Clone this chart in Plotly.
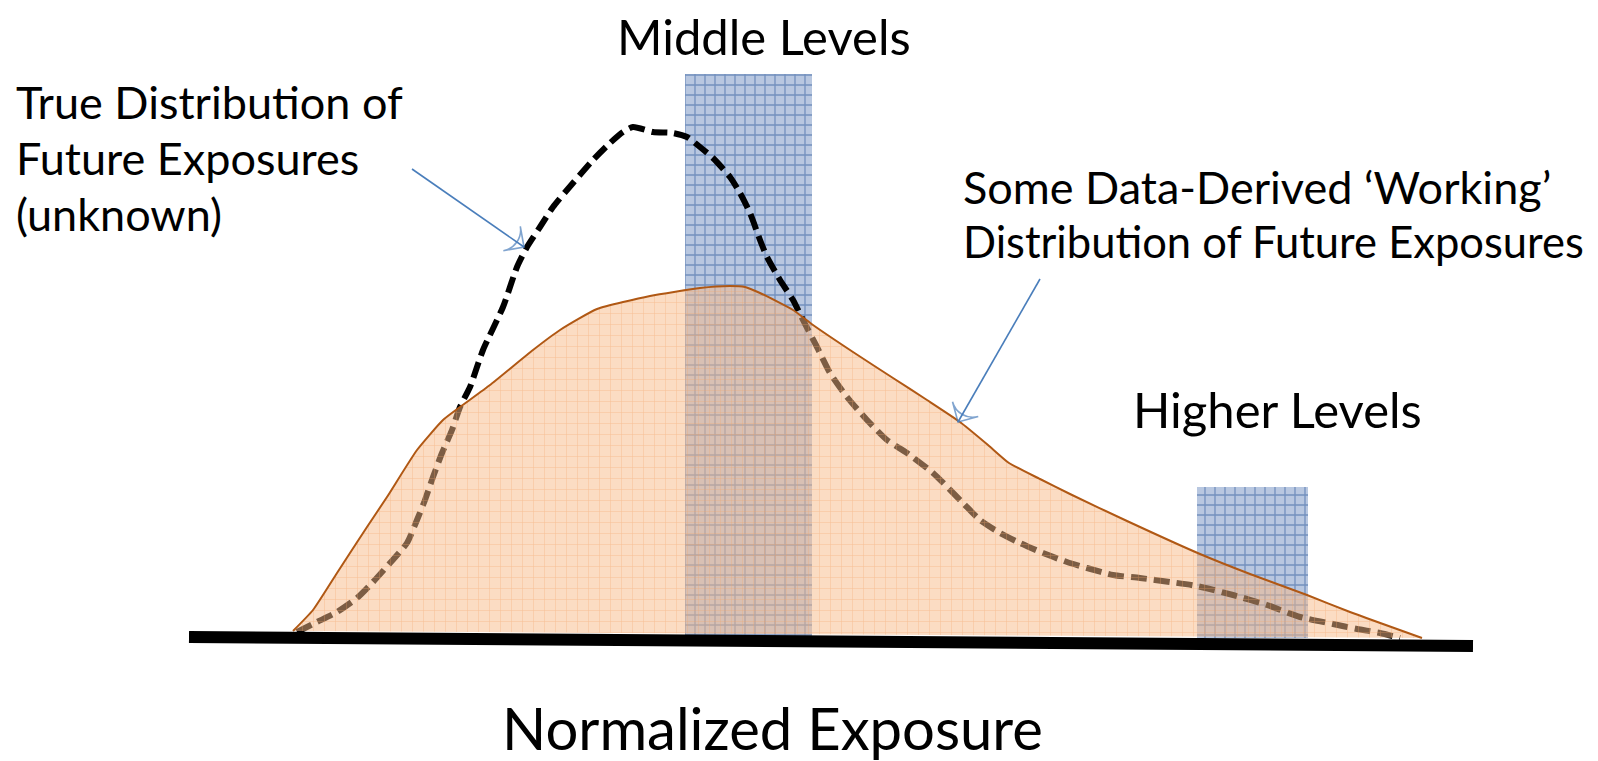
import plotly.graph_objects as go

# ---------------- data (normalized exposure units, density heights) ----------------
working_x = [0.00, 0.20, 0.44, 0.74, 0.94, 1.24, 1.50, 1.67, 1.97, 2.40, 2.67, 3.04, 3.57,
             4.07, 4.37, 4.52, 4.67, 5.00, 5.20, 5.60, 6.00, 6.34, 6.67, 6.95, 7.16, 7.47,
             7.77, 8.34, 9.07, 9.57, 10.14, 10.57, 11.29]
working_y = [0.02, 0.23, 0.60, 1.06, 1.36, 1.83, 2.13, 2.26, 2.48, 2.83, 3.03, 3.24, 3.37,
             3.45, 3.47, 3.46, 3.40, 3.23, 3.08, 2.81, 2.55, 2.33, 2.11, 1.88, 1.70, 1.54,
             1.39, 1.12, 0.79, 0.59, 0.38, 0.21, -0.05]

true_x = [0.04, 0.24, 0.44, 0.64, 0.80, 0.97, 1.14, 1.24, 1.32, 1.40, 1.49, 1.59, 1.67,
          1.77, 1.90, 2.10, 2.24, 2.34, 2.47, 2.60, 2.80, 3.00, 3.17, 3.30, 3.40, 3.60,
          3.80, 3.94, 4.07, 4.20, 4.37, 4.47, 4.57, 4.67, 4.74, 4.87, 5.00, 5.10, 5.24,
          5.37, 5.54, 5.74, 5.94, 6.14, 6.40, 6.70, 6.87, 7.07, 7.27, 7.50, 7.74, 7.94,
          8.20, 8.47, 8.77, 9.04, 9.40, 9.74, 10.07, 10.40, 10.64, 10.87, 11.07]
true_y = [0.01, 0.11, 0.21, 0.35, 0.51, 0.70, 0.90, 1.13, 1.33, 1.56, 1.80, 2.03, 2.26,
          2.46, 2.83, 3.26, 3.66, 3.86, 4.06, 4.26, 4.50, 4.73, 4.90, 5.01, 5.06, 5.01,
          5.00, 4.96, 4.86, 4.75, 4.56, 4.40, 4.20, 3.93, 3.76, 3.53, 3.33, 3.13, 2.86,
          2.60, 2.36, 2.13, 1.93, 1.80, 1.60, 1.30, 1.13, 1.00, 0.90, 0.80, 0.71, 0.65,
          0.58, 0.55, 0.51, 0.47, 0.38, 0.28, 0.16, 0.09, 0.04, 0.00, -0.05]

middle_band = [3.92, 5.19]
middle_top = 5.59
higher_band = [9.04, 10.15]
higher_top = 1.46
band_floor = -0.05

axis_x = [-1.04, 11.80]
axis_y = [-0.04, -0.13]

arrow_true_x = [1.19, 2.31]
arrow_true_y = [4.64, 3.86]
arrow_work_x = [7.47, 6.65]
arrow_work_y = [3.54, 2.11]

FONT = "Lato"

fig = go.Figure()


def band(xs, top, name):
    return go.Scatter(
        x=[xs[0], xs[0], xs[1], xs[1], xs[0]],
        y=[band_floor, top, top, band_floor, band_floor],
        mode="lines", fill="toself", line=dict(width=0),
        fillcolor="rgb(182,198,223)",
        fillpattern=dict(shape="+", size=10, solidity=0.25,
                         fgcolor="rgb(108,138,186)", bgcolor="rgb(184,199,224)",
                         fgopacity=0.9),
        hoverinfo="skip", name=name)


fig.add_trace(band(middle_band, middle_top, "Middle Levels"))
fig.add_trace(band(higher_band, higher_top, "Higher Levels"))

# true distribution (dashed)
fig.add_trace(go.Scatter(
    x=true_x, y=true_y, mode="lines",
    line=dict(color="black", width=6, dash="16px,7px", shape="spline", smoothing=0.6),
    hoverinfo="skip", name="True"))

# working distribution fill
fig.add_trace(go.Scatter(
    x=working_x, y=working_y, mode="lines", fill="toself", line=dict(width=0),
    fillcolor="rgba(247,185,135,0.5)",
    fillpattern=dict(shape="+", size=11, solidity=0.12,
                     fgcolor="rgb(242,160,100)", bgcolor="rgba(247,185,135,0.5)",
                     fgopacity=0.4),
    hoverinfo="skip", name="Working fill"))

# working outline
fig.add_trace(go.Scatter(
    x=working_x, y=working_y, mode="lines",
    line=dict(color="rgb(176,88,20)", width=2, shape="spline", smoothing=0.5),
    hoverinfo="skip", name="Working"))

# arrows
for ax_, ay_ in [(arrow_true_x, arrow_true_y), (arrow_work_x, arrow_work_y)]:
    fig.add_trace(go.Scatter(
        x=ax_, y=ay_, mode="lines+markers",
        line=dict(color="rgb(74,126,187)", width=1.6),
        marker=dict(symbol="arrow-wide-open", size=[0, 21], angleref="previous",
                    color="rgb(74,126,187)",
                    line=dict(color="rgb(74,126,187)", width=1.6)),
        hoverinfo="skip"))

# baseline axis
fig.add_trace(go.Scatter(
    x=axis_x, y=axis_y, mode="lines",
    line=dict(color="black", width=12), hoverinfo="skip", name="axis"))

W, H = 1598, 761


def ann(text, px, py, size, anchor="left"):
    return dict(text=text, x=px / W, y=1 - py / H, xref="paper", yref="paper",
                xanchor=anchor, yanchor="middle", showarrow=False,
                font=dict(family=FONT, size=size, color="black"))


annotations = [
    ann("Middle Levels", 764, 36, 49, "center"),
    ann("True Distribution of", 14, 102, 45),
    ann("Future Exposures", 14, 158, 45),
    ann("(unknown)", 14, 214, 45),
    ann("Some Data-Derived \u2018Working\u2019", 961, 187, 45),
    ann("Distribution of Future Exposures", 961, 241, 43.5),
    ann("Higher Levels", 1277, 409, 49, "center"),
    ann("Normalized Exposure", 772, 727, 58, "center"),
]

fig.update_layout(
    width=W, height=H, margin=dict(l=0, r=0, t=0, b=0),
    paper_bgcolor="white", plot_bgcolor="white", showlegend=False,
    annotations=annotations,
    xaxis=dict(range=[-2.93, 13.05], visible=False, fixedrange=True),
    yaxis=dict(range=[-1.28, 6.33], visible=False, fixedrange=True),
)

fig.write_html("out.html", config={"displayModeBar": False},
               post_script="document.body.style.margin='0';document.body.style.overflow='hidden';")
